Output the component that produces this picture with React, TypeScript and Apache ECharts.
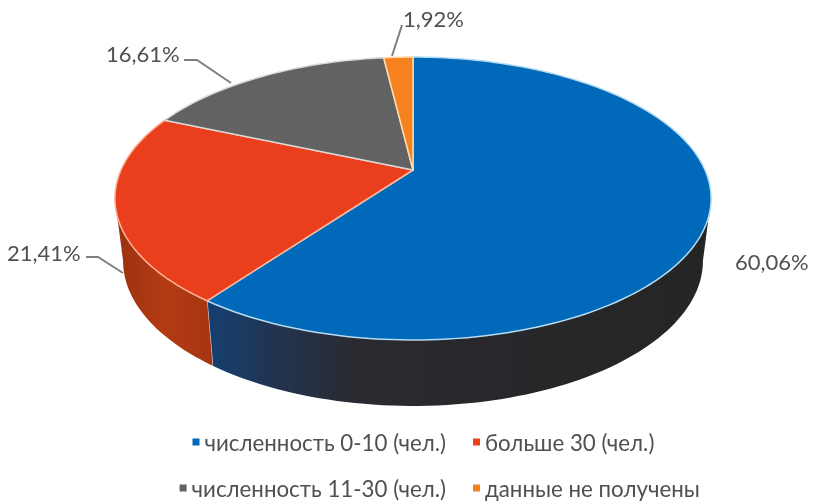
import React, { useEffect, useRef } from "react";
import * as echarts from "echarts";

const categories = ["численность 0-10 (чел.)", "больше 30 (чел.)", "численность 11-30 (чел.)", "данные не получены"];
const shares = [60.06, 21.41, 16.61, 1.92];
const colors = ["#0069b9", "#ea3f1c", "#626262", "#f5821f"];
const rimColors = ["#b5dcf2", "#ffb59a", "#d8d8d8", "#ffd9a8"];

// Label placement (text anchor, then leader line)
const labelAnchors: [number, number][] = [[735, 261], [7, 252], [106, 53], [403, 18]];
const leaders: [number, number][][] = [
  [],
  [[86, 257], [98, 257], [123, 273]],
  [[184, 60], [197, 60], [231, 83]],
  [[402, 25], [392, 56]],
];
const legendPos = [
  { right: 367, top: 431 },
  { left: 473, top: 431 },
  { right: 367, top: 477 },
  { left: 473, top: 477 },
];

// Perspective projection of the disc
const CX = 413, PERSP = -0.2014;
const TOP = { a: 101.5, b: 170, rx: 292 };
const BOT = { a: 92.7, b: 231.5, rx: 284 };
const FRONT_FROM = 101.6, FRONT_TO = 258.4;

type Rim = { a: number; b: number; rx: number };

function project(deg: number, rim: Rim): [number, number] {
  const r = (deg * Math.PI) / 180;
  const u = Math.sin(r), v = -Math.cos(r);
  const d = 1 + PERSP * v;
  return [CX + (rim.rx * u) / d, (rim.a * v + rim.b) / d];
}

function arc(from: number, to: number, rim: Rim) {
  const pts: [number, number][] = [];
  const n = Math.max(2, Math.ceil((to - from) / 1.5));
  for (let i = 0; i <= n; i++) pts.push(project(from + ((to - from) * i) / n, rim));
  return pts;
}

const wallFills = [
  () => new echarts.graphic.LinearGradient(0, 0, 1, 0, [
    { offset: 0, color: "#143f72" },
    { offset: 0.14, color: "#23334f" },
    { offset: 0.3, color: "#2a2a30" },
    { offset: 1, color: "#252525" },
  ]),
  () => new echarts.graphic.LinearGradient(0, 0, 1, 0, [
    { offset: 0, color: "#9a3110" },
    { offset: 0.5, color: "#b33b12" },
    { offset: 1, color: "#a63412" },
  ]),
];

function sliceRenderer(index: number) {
  return () => {
    const total = shares.reduce((s, v) => s + v, 0);
    const before = shares.slice(0, index).reduce((s, v) => s + v, 0);
    const from = (before / total) * 360;
    const to = ((before + shares[index]) / total) * 360;
    const children: any[] = [];

    const wf = Math.max(from, FRONT_FROM), wt = Math.min(to, FRONT_TO);
    if (wt > wf && wallFills[index]) {
      const upper = arc(wf, wt, TOP);
      const lower = arc(wf, wt, BOT).reverse();
      children.push({
        type: "polygon",
        shape: { points: [...upper, ...lower] },
        style: { fill: wallFills[index](), stroke: null },
      });
    }
    children.push({
      type: "polygon",
      shape: { points: [[CX, TOP.b], ...arc(from, to, TOP)] },
      style: { fill: colors[index], stroke: rimColors[index], lineWidth: 1.5, lineJoin: "round" },
    });
    if (index === 0) {
      const p = project(to, TOP), q = project(to, BOT);
      children.push({
        type: "line",
        shape: { x1: p[0], y1: p[1], x2: q[0], y2: q[1] },
        style: { stroke: "#d6d6d6", lineWidth: 1.2 },
      });
    }
    if (leaders[index].length) {
      children.push({
        type: "polyline",
        shape: { points: leaders[index] },
        style: { stroke: "#7f7f7f", lineWidth: 2, fill: null },
      });
    }
    children.push({
      type: "text",
      x: labelAnchors[index][0],
      y: labelAnchors[index][1],
      style: {
        text: shares[index].toFixed(2).replace(".", ",") + "%",
        fill: "#505050",
        fontFamily: "Lato",
        fontSize: 22,
        textAlign: "left",
        textVerticalAlign: "middle",
      },
    });
    return { type: "group", children };
  };
}

export default function App() {
  const ref = useRef<HTMLDivElement>(null);
  useEffect(() => {
    document.body.style.margin = "0";
    const chart = echarts.init(ref.current!, null, { renderer: "svg" });
    chart.setOption({
      animation: false,
      backgroundColor: "#ffffff",
      legend: categories.map((name, i) => ({
        data: [name],
        ...legendPos[i],
        orient: "horizontal",
        padding: 0,
        selectedMode: false,
        icon: "rect",
        itemWidth: 7,
        itemHeight: 7,
        textStyle: { color: "#505050", fontFamily: "Lato", fontSize: 22.3 },
      })),
      series: categories.map((name, i) => ({
        type: "custom",
        name,
        coordinateSystem: "none",
        itemStyle: { color: colors[i] },
        data: [[shares[i]]],
        renderItem: sliceRenderer(i),
      })),
    });
    return () => chart.dispose();
  }, []);
  return <div ref={ref} style={{ width: 813, height: 504, filter: "blur(0.5px)" }} />;
}
